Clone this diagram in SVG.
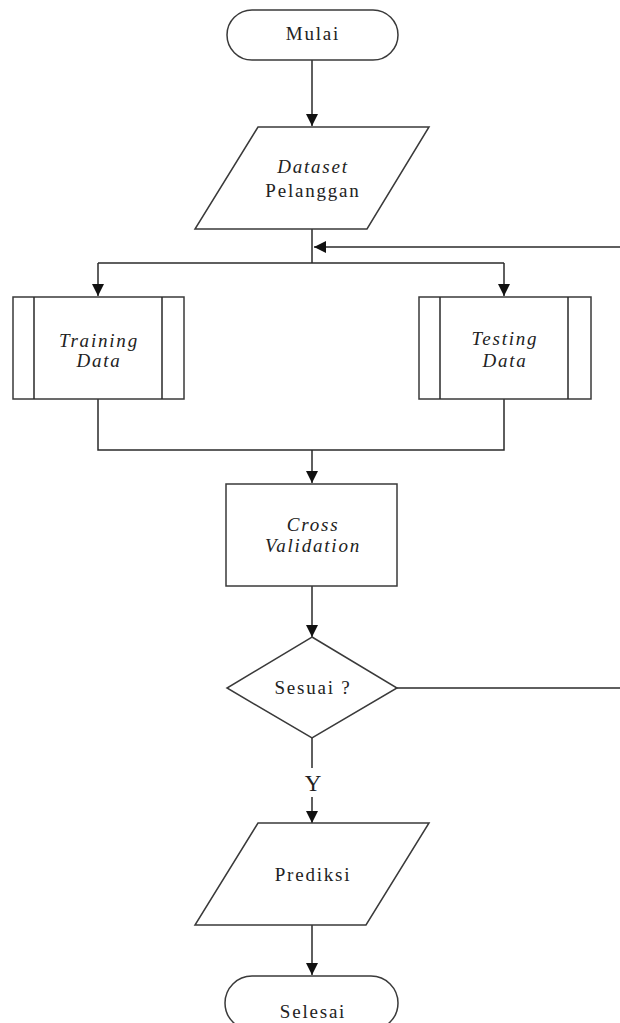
<svg xmlns="http://www.w3.org/2000/svg" width="620" height="1023" viewBox="0 0 620 1023">
  <style>
    .shape { fill: #ffffff; stroke: #3a3a3a; stroke-width: 1.5; }
    .line { fill: none; stroke: #2a2a2a; stroke-width: 1.5; }
    .label { font-family: "Liberation Serif", "Times New Roman", serif; font-size: 19px; letter-spacing: 1.8px; fill: #222222; text-anchor: middle; }
    .it { font-style: italic; }
  </style>
  <defs>
    <marker id="arrow" viewBox="0 0 12 12" refX="12" refY="6" markerWidth="12" markerHeight="12" markerUnits="userSpaceOnUse" orient="auto">
      <path d="M0,0 L12,6 L0,12 Z" fill="#111111"/>
    </marker>
  </defs>

  <g id="connectors">
    <path class="line" d="M312,60 V126" marker-end="url(#arrow)"/>
    <path class="line" d="M312,229 V263"/>
    <path class="line" d="M620,247 H314" marker-end="url(#arrow)"/>
    <path class="line" d="M98,263 H504"/>
    <path class="line" d="M98,263 V296" marker-end="url(#arrow)"/>
    <path class="line" d="M504,263 V296" marker-end="url(#arrow)"/>
    <path class="line" d="M98,399 V450 H504 V399"/>
    <path class="line" d="M312,450 V483" marker-end="url(#arrow)"/>
    <path class="line" d="M312,586 V637" marker-end="url(#arrow)"/>
    <path class="line" d="M397,688 H620"/>
    <path class="line" d="M312,738 V768"/>
    <path class="line" d="M312,797 V823" marker-end="url(#arrow)"/>
    <path class="line" d="M312,925 V975" marker-end="url(#arrow)"/>
    <text class="label" x="313" y="791" style="font-size:23px;letter-spacing:0">Y</text>
  </g>

  <g id="mulai">
    <rect class="shape" x="227" y="10" width="171" height="50" rx="25"/>
    <text class="label" x="313" y="40">Mulai</text>
  </g>

  <g id="dataset">
    <polygon class="shape" points="258,127 429,127 367,229 195,229"/>
    <text class="label it" x="313" y="173">Dataset</text>
    <text class="label" x="313" y="197">Pelanggan</text>
  </g>

  <g id="training">
    <rect class="shape" x="13" y="297" width="171" height="102"/>
    <path class="line" d="M34,297 V399 M162,297 V399"/>
    <text class="label it" x="99" y="347">Training</text>
    <text class="label it" x="99" y="367">Data</text>
  </g>

  <g id="testing">
    <rect class="shape" x="419" y="297" width="172" height="102"/>
    <path class="line" d="M440,297 V399 M568,297 V399"/>
    <text class="label it" x="505" y="345">Testing</text>
    <text class="label it" x="505" y="367">Data</text>
  </g>

  <g id="cross-validation">
    <rect class="shape" x="226" y="484" width="171" height="102"/>
    <text class="label it" x="313" y="531">Cross</text>
    <text class="label it" x="313" y="552">Validation</text>
  </g>

  <g id="sesuai">
    <polygon class="shape" points="312,637 397,688 312,738 227,688"/>
    <text class="label" x="313" y="694">Sesuai ?</text>
  </g>

  <g id="prediksi">
    <polygon class="shape" points="258,823 429,823 366,925 195,925"/>
    <text class="label" x="313" y="881">Prediksi</text>
  </g>

  <g id="selesai">
    <rect class="shape" x="225" y="976" width="173" height="54" rx="27"/>
    <text class="label" x="313" y="1018">Selesai</text>
  </g>
</svg>
